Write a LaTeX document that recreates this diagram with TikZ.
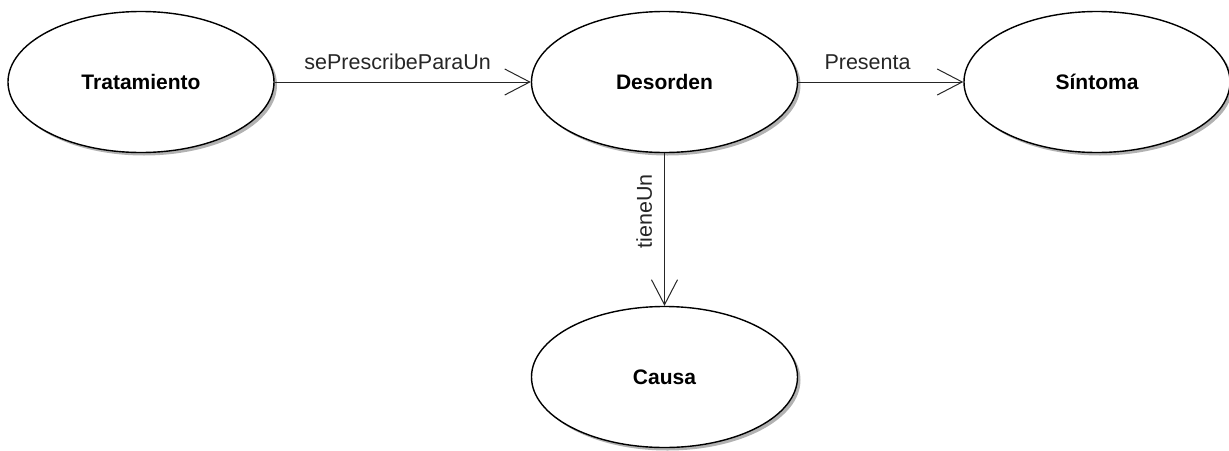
\documentclass[tikz,border=0pt]{standalone}
\usepackage{fontspec}
\setmainfont{Liberation Sans}
\usetikzlibrary{arrows.meta,shadows,shapes.geometric}
\begin{document}
\begin{tikzpicture}[x=1pt, y=-1pt, >={Straight Barb[length=25pt,width=26pt]},
    concept/.style={ellipse, draw=black, line width=1.4pt, fill=white,
        minimum width=266pt, minimum height=141pt, inner sep=0pt,
        font=\fontsize{21}{25}\selectfont\bfseries,
        drop shadow={shadow xshift=3pt, shadow yshift=-3pt, opacity=0.3, fill=black}},
    rel/.style={->, draw=black!85, line width=1pt},
    lbl/.style={font=\fontsize{21.5}{25}\selectfont, text=black!85}]
    \useasboundingbox (0,0) rectangle (1229,450);
    \node[concept] (trat) at (141,82) {Tratamiento};
    \node[concept] (des) at (664.5,82) {Desorden};
    \node[concept] (sint) at (1097,82) {Síntoma};
    \node[concept] (causa) at (664.5,377) {Causa};
    \draw[rel] (trat) -- node[lbl, above=8pt, pos=0.48] {sePrescribeParaUn} (des);
    \draw[rel] (des) -- node[lbl, above=8pt, pos=0.42] {Presenta} (sint);
    \draw[rel] (des) -- node[lbl, rotate=90, anchor=south, inner ysep=12pt, pos=0.38] {tieneUn} (causa);
\end{tikzpicture}
\end{document}
